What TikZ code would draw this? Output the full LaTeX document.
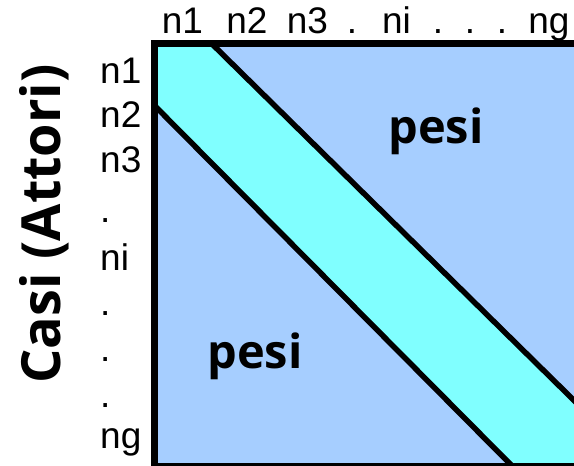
\documentclass[tikz,border=0pt]{standalone}
\usepackage{fontspec}
\setmainfont{Liberation Sans}
\newfontfamily\boldfam{Open Sans}[UprightFont=* Bold]
\definecolor{paleblue}{RGB}{166,206,255}
\definecolor{bandcyan}{RGB}{128,255,255}
\tikzset{
  lbl/.style={font=\fontsize{37}{37}\selectfont, inner sep=0pt, anchor=base},
  lbll/.style={font=\fontsize{37}{37}\selectfont, inner sep=0pt, anchor=base west},
  pesi/.style={font=\boldfam\fontsize{47}{47}\selectfont, inner sep=0pt, anchor=base},
  diag/.style={line width=5.5pt, black},
  frame/.style={line width=7pt, black}
}
\begin{document}
\begin{tikzpicture}[x=1pt,y=-1pt]
\useasboundingbox (0,0) rectangle (574,466);
\clip (0,0) rectangle (574,466);
% corners of the matrix frame
\coordinate (tl) at (154.5,43.5);
\coordinate (br) at (577.5,466.5);
% diagonal line end points
\coordinate (a1) at (208,40);
\coordinate (a2) at (600,426);
\coordinate (b1) at (150,101);
\coordinate (b2) at (526,480);
\fill[paleblue] (tl) rectangle (br);
\begin{scope}
  \clip (tl) rectangle (br);
  \fill[bandcyan] (150,40) -- (a1) -- (a2) -- (600,480) -- (b2) -- (b1) -- cycle;
  \draw[diag] (a1) -- (a2);
  \draw[diag] (b1) -- (b2);
\end{scope}
\draw[frame] (tl) rectangle (br);
% column labels
\node[lbl] (c1) at (182.5,33) {n1};
\node[lbl] (c2) at (247,33) {n2};
\node[lbl] (c3) at (307.5,33) {n3};
\node[lbl] (c4) at (352,33) {.};
\node[lbl] (c5) at (396.5,33) {ni};
\node[lbl] (c6) at (438,33) {.};
\node[lbl] (c7) at (470,33) {.};
\node[lbl] (c8) at (502,33) {.};
\node[lbl] (c9) at (549,33) {ng};
% row labels
\node[lbll] (r1) at (100,83) {n1};
\node[lbll] (r2) at (100,127) {n2};
\node[lbll] (r3) at (100,172) {n3};
\node[lbll] (r4) at (100,222) {.};
\node[lbll] (r5) at (100,270) {ni};
\node[lbll] (r6) at (100,315) {.};
\node[lbll] (r7) at (100,361) {.};
\node[lbll] (r8) at (100,407) {.};
\node[lbll] (r9) at (100,448) {ng};
% weights
\node[pesi] (p1) at (436,143) {pesi};
\node[pesi] (p2) at (255,368) {pesi};
% axis title
\node[font=\boldfam\fontsize{54}{54}\selectfont, inner sep=0pt, anchor=base, rotate=90] (casi) at (60,224) {Casi (Attori)};
\end{tikzpicture}
\end{document}
